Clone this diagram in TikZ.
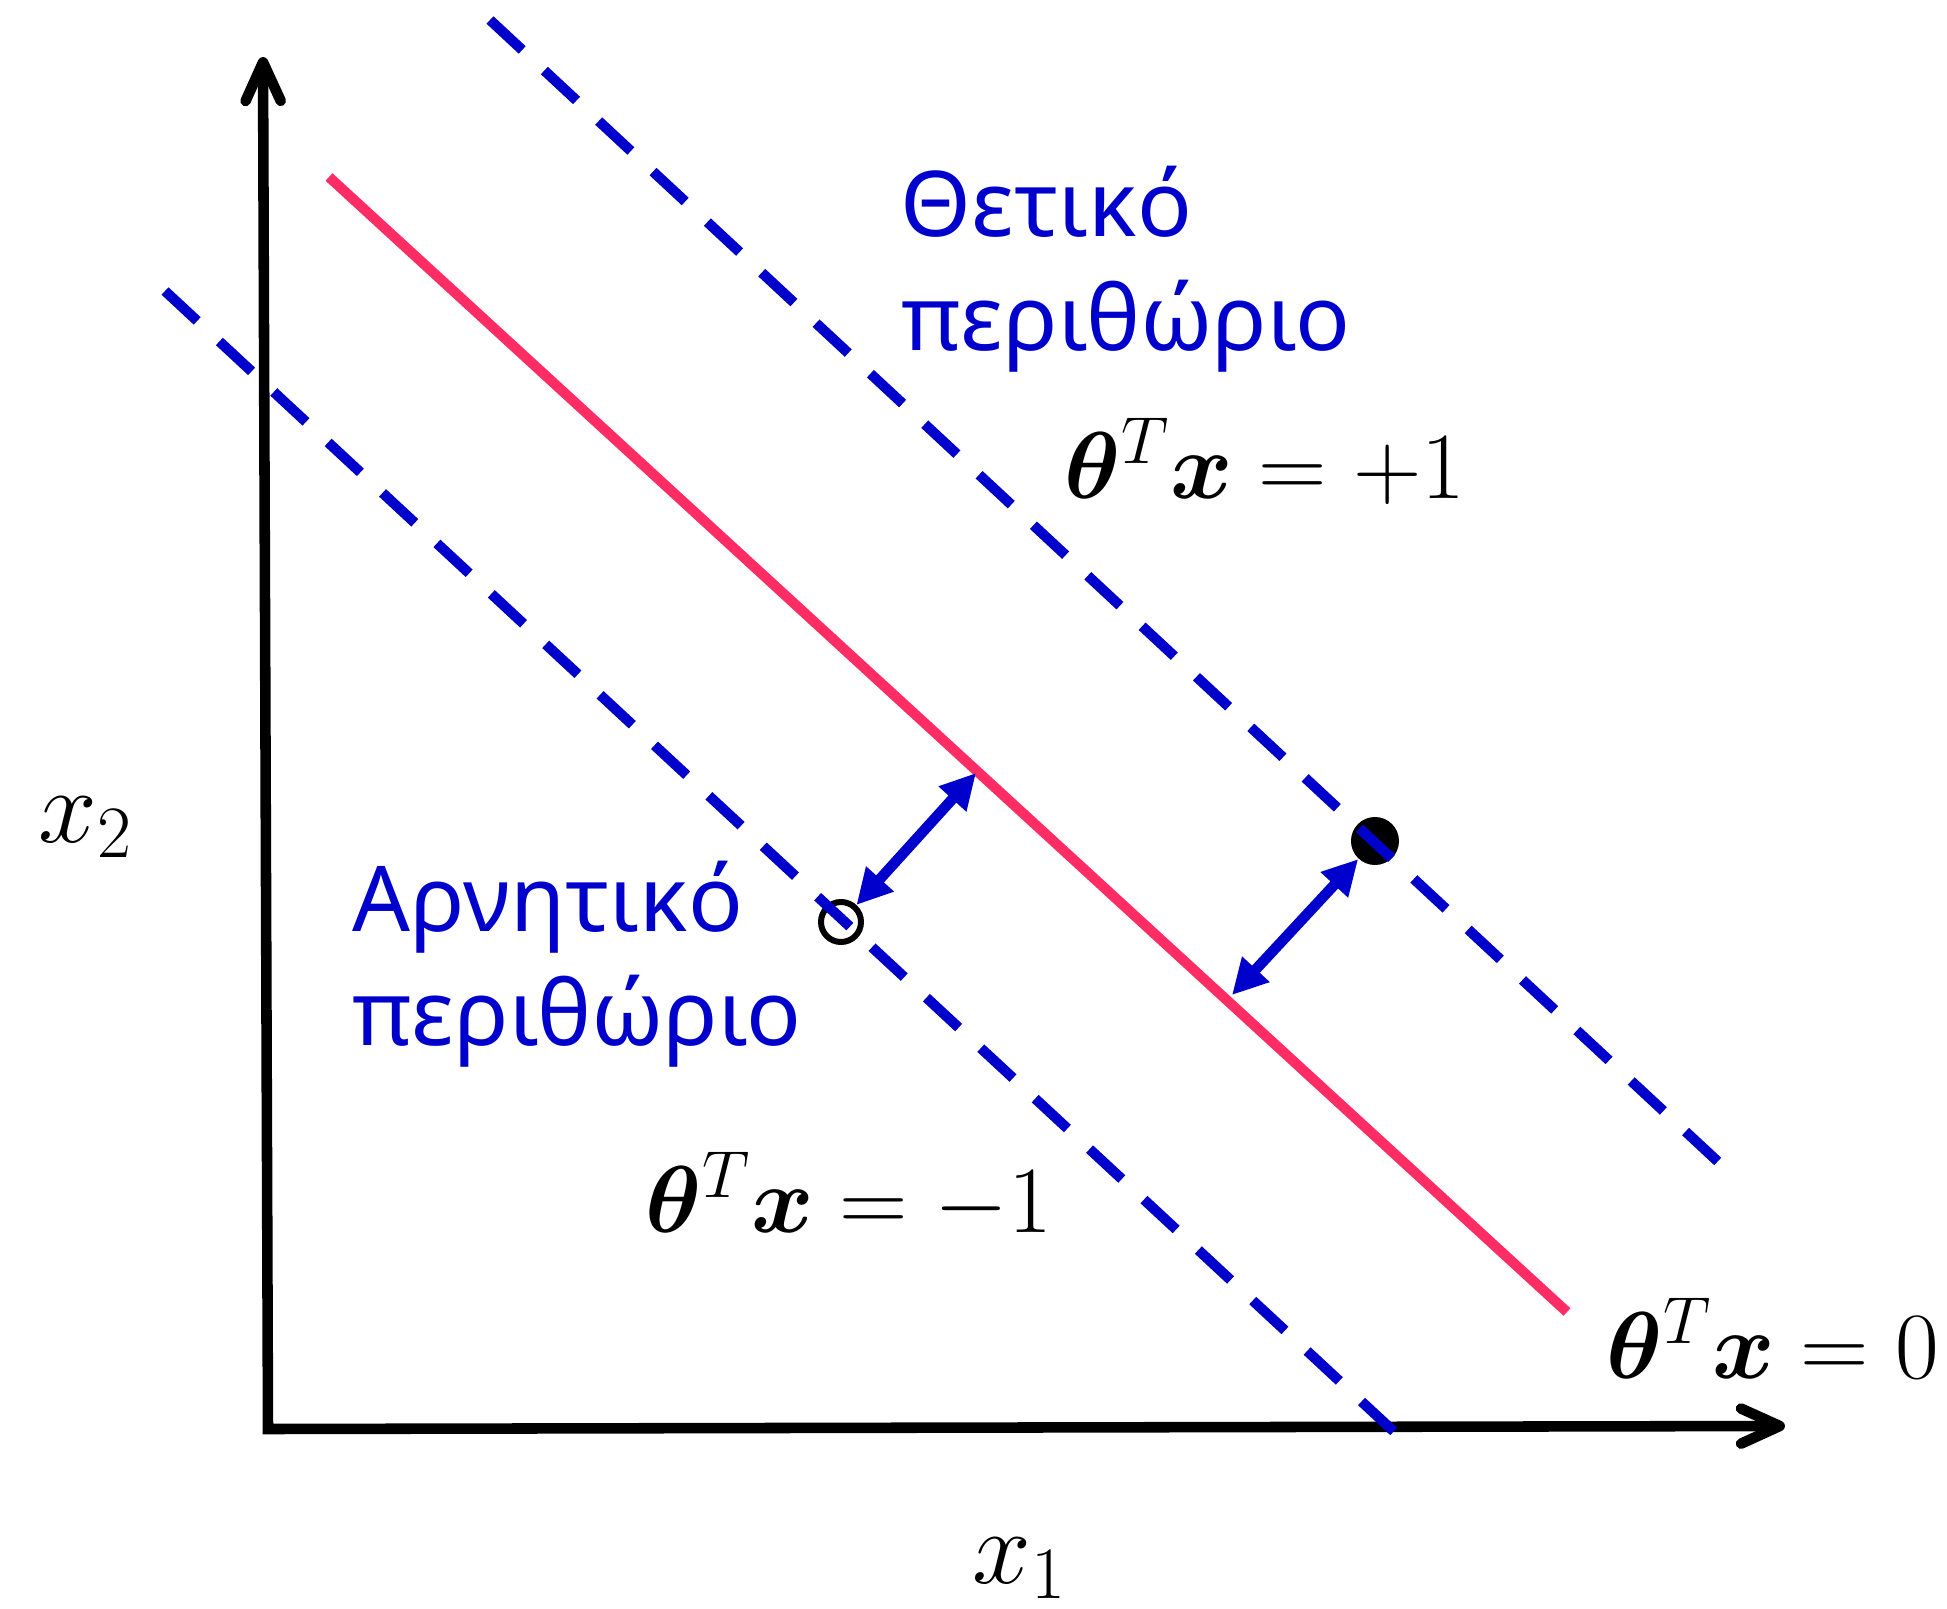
\RequirePackage{fix-cm}
\documentclass[tikz,border=0pt]{standalone}
\usepackage{amsmath}
\usepackage{bm}
\usepackage{fontspec}
\usetikzlibrary{arrows.meta}
\newfontfamily\grfont{Noto Sans}
\definecolor{mblue}{RGB}{0,0,204}
\definecolor{mpink}{RGB}{255,45,100}
\begin{document}
\begin{tikzpicture}[x=0.01cm,y=-0.01cm,
  axis/.style={line width=3pt, black, line join=miter},
  margin/.style={mblue, line width=2.9pt, dash pattern=on 12.5pt off 8.6pt},
  boundary/.style={mpink, line width=2.9pt},
  gap/.style={mblue, line width=3pt, {Triangle[length=10pt,width=10pt]}-{Triangle[length=10pt,width=10pt]}},
  greek/.style={mblue, font=\grfont\fontsize{25.8}{31}\selectfont, inner sep=0pt, anchor=base west},
  eq/.style={font=\fontsize{27}{32}\selectfont, inner sep=0pt, anchor=base west},
  lab/.style={font=\fontsize{30}{35}\selectfont, inner sep=0pt, anchor=base west},
  pt/.style={circle, inner sep=0pt}]
\useasboundingbox (0,0) rectangle (1947,1609);
% axes
\coordinate (ytip) at (263,57);
\coordinate (origin) at (268,1429);
\coordinate (xtip) at (1785,1426);
\draw[axis, {Straight Barb[round,length=11pt,width=10pt]}-{Straight Barb[round,length=11pt,width=10pt]}] (ytip) -- (origin) -- (xtip);
% points
\node[pt, draw, line width=1.7pt, minimum size=0.40cm] (neg) at (841,922) {};
\node[pt, fill=black, minimum size=0.48cm] (pos) at (1375,841) {};
% lines
\coordinate (p1) at (329,177); \coordinate (p2) at (1567,1312);
\draw[boundary] (p1) -- (p2);
\coordinate (u1) at (490,20); \coordinate (u2) at (1728,1171);
\draw[margin] (u1) -- (u2);
\coordinate (l1) at (165,291); \coordinate (l2) at (1403,1440);
\draw[margin] (l1) -- (l2);
% margin arrows
\coordinate (b1) at (976,773); \coordinate (b2) at (1232,995);
\draw[gap] (b1) -- (neg);
\draw[gap] (b2) -- (pos);
% texts
\node[greek] (pos1) at (900,236) {Θετικό};
\node[greek] (pos2) at (901,350) {περιθώριο};
\node[greek] (neg1) at (352,931) {Αρνητικό};
\node[greek] (neg2) at (352,1045) {περιθώριο};
\node[eq] (eqp) at (1064,498) {$\bm{\theta}^{T}\bm{x} = +1$};
\node[eq] (eqm) at (645,1232) {$\bm{\theta}^{T}\bm{x} = -1$};
\node[eq] (eq0) at (1606,1378) {$\bm{\theta}^{T}\bm{x} = 0$};
\node[lab] (x2) at (38,842) {$x_2$};
\node[lab] (x1) at (972,1583) {$x_1$};
\end{tikzpicture}
\end{document}
